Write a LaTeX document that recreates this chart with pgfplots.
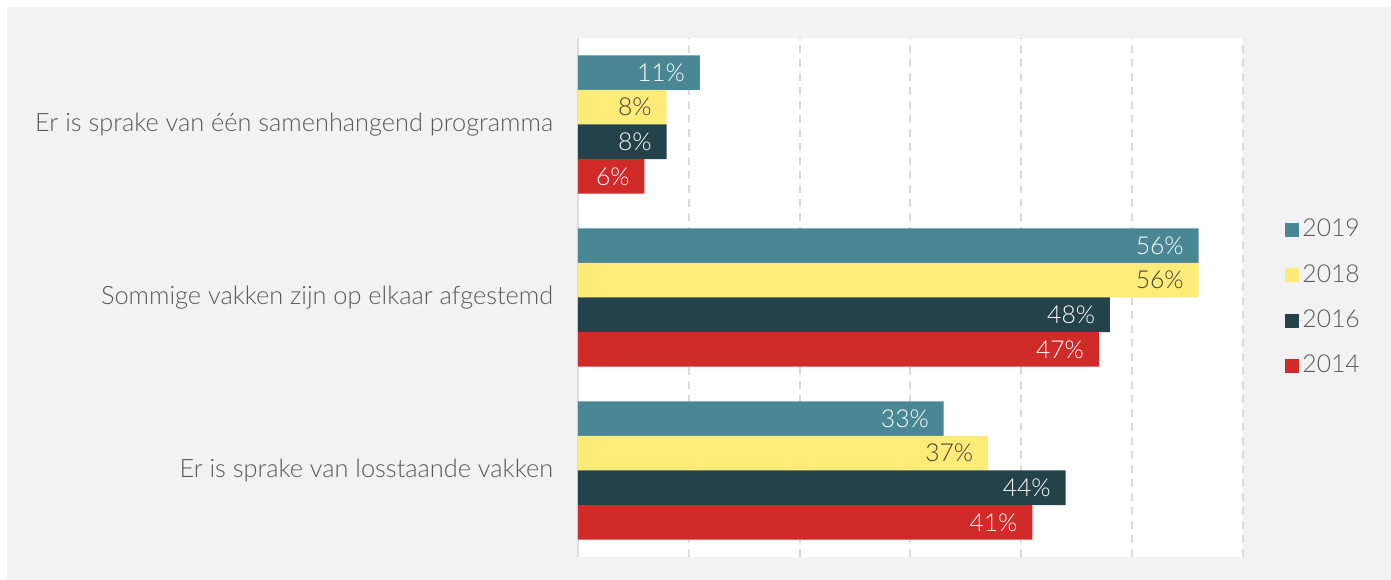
\documentclass[border=0pt]{standalone}
\usepackage{fontspec}
\setmainfont{Lato Light}
\usepackage{pgfplots}
\pgfplotsset{compat=1.18}
\usetikzlibrary{backgrounds,calc}
\definecolor{bg}{HTML}{F2F2F2}
\definecolor{cA}{HTML}{4A8794}
\definecolor{cB}{HTML}{FFEB78}
\definecolor{cC}{HTML}{244249}
\definecolor{cD}{HTML}{D12B29}
\definecolor{txt}{HTML}{595959}
\definecolor{gridc}{HTML}{DCDCDC}
\begin{document}
\begin{tikzpicture}
\begin{axis}[
  name=ax,
  scale only axis, width=498.75pt, height=389.25pt,
  axis background/.style={fill=white},
  xbar, bar width=0.2,
  xmin=0, xmax=60, ymin=-0.5, ymax=2.5,
  axis line style={draw=none},
  major tick length=0pt,
  xtick={10,20,...,60}, xticklabels={},
  xmajorgrids,
  grid style={gridc, line width=1.5pt, dash pattern=on 6pt off 4.5pt},
  extra x ticks={0}, extra x tick labels={},
  extra x tick style={grid style={solid, gridc, line width=1.2pt}},
  ytick={0,1,2},
  yticklabels={Er is sprake van losstaande vakken, Sommige vakken zijn op elkaar afgestemd, Er is sprake van één samenhangend programma},
  yticklabel style={font=\fontsize{19pt}{22pt}\selectfont, text=txt, inner sep=0pt, xshift=-18.5pt},
  nodes near coords={\pgfmathprintnumber[assume math mode=true]{\pgfplotspointmeta}\%},
  nodes near coords style={anchor=east, inner sep=0pt, xshift=-11pt, font=\fontsize{18.5pt}{21pt}\selectfont},
  legend style={at={(1.063,0.499)}, anchor=west, draw=none, fill=none, inner sep=0pt,
    font=\fontsize{18.5pt}{21pt}\selectfont, text=txt,
    nodes={inner sep=0pt, text height=13pt, text depth=3pt},
    row sep=18pt},
  legend cell align=left,
  sq/.style={legend image code/.code={\fill (0pt,-5.25pt) rectangle (10.5pt,5.25pt); \path (0pt,0pt) -- (13pt,0pt);}},
]
\addplot[sq, fill=cA, draw=none, bar shift=0.3, nodes near coords style={text=white}] coordinates {(33,0) (56,1) (11,2)};
\addplot[sq, fill=cB, draw=none, bar shift=0.1, nodes near coords style={text=black!75}] coordinates {(37,0) (56,1) (8,2)};
\addplot[sq, fill=cC, draw=none, bar shift=-0.1, nodes near coords style={text=white}] coordinates {(44,0) (48,1) (8,2)};
\addplot[sq, fill=cD, draw=none, bar shift=-0.3, nodes near coords style={text=white}] coordinates {(41,0) (47,1) (6,2)};
\legend{2019,2018,2016,2014}
\end{axis}
\coordinate (O) at ($(ax.south west)+(-433.5pt,-17.25pt)$);
\begin{scope}[on background layer]
\fill[white] (O) rectangle ++(1043.25pt,435pt);
\fill[bg] ($(O)+(5.25pt,0pt)$) rectangle ($(O)+(1043.25pt,429.75pt)$);
\end{scope}
\pgfresetboundingbox
\path[use as bounding box] (O) rectangle ++(1043.25pt,435pt);
\end{tikzpicture}
\end{document}
